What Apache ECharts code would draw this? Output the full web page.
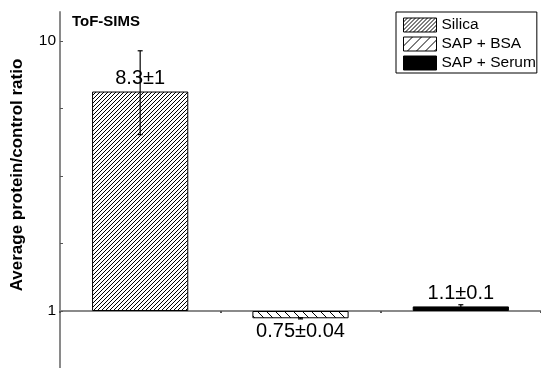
<!DOCTYPE html>
<html><head><meta charset="utf-8">
<script src="https://cdn.jsdelivr.net/npm/echarts@6/dist/echarts.min.js"></script>
<style>html,body{margin:0;padding:0;background:#fff}#c{width:541px;height:368px}</style>
</head><body><div id="c"></div>
<script>
// ---- data ----
const categories = ['Silica', 'SAP + BSA', 'SAP + Serum'];
const barValues = [6.5, 0.94, 1.04];
const errLow = [4.5, 0.935, 1.02];
const errHigh = [9.2, 0.945, 1.055];
const barLabels = ['8.3±1', '0.75±0.04', '1.1±0.1'];
const yLabelValues = [1, 10];
const yTickValues = [1, 1.778, 3.162, 5.623, 10];
const yMin = 0.6151, yMax = 12.806;

const FONT = "'Liberation Sans', Arial, sans-serif";

function hatch(size, dir, lw) {
  const c = document.createElement('canvas');
  c.width = size; c.height = size;
  const g = c.getContext('2d');
  g.fillStyle = '#fff'; g.fillRect(0, 0, size, size);
  g.strokeStyle = '#000'; g.lineWidth = lw;
  g.beginPath();
  const s = size;
  if (dir > 0) {
    for (let k = -1; k <= 1; k++) { g.moveTo(k * s, s); g.lineTo(k * s + s, 0); }
  } else {
    for (let k = -1; k <= 1; k++) { g.moveTo(k * s, 0); g.lineTo(k * s + s, s); }
  }
  g.stroke();
  return { image: c, repeat: 'repeat' };
}

const silicaFill = hatch(4, 1, 1);
const bsaBarFill = hatch(9, -1, 1);
const bsaLegendFill = hatch(9, 1, 1);
const fills = [silicaFill, bsaBarFill, '#000'];
const legendFills = [silicaFill, bsaLegendFill, '#000'];
const labelPos = ['top', 'bottom', 'top'];

const barSeries = categories.map((name, i) => ({
  name: name,
  type: 'bar',
  barWidth: '60%',
  barGap: '-100%',
  data: categories.map((c, j) => (j === i ? barValues[j] : '-')),
  itemStyle: { color: fills[i], borderColor: '#000', borderWidth: 1 },
  label: {
    show: true, position: labelPos[i], distance: 3,
    formatter: p => barLabels[p.dataIndex],
    fontSize: 20, color: '#000', fontFamily: FONT
  },
  emphasis: { disabled: true },
  animation: false
}));

const errSeries = {
  name: 'error',
  type: 'custom',
  z: 10,
  data: categories.map((c, i) => [i, errLow[i], errHigh[i]]),
  encode: { x: 0, y: [1, 2] },
  renderItem: function (params, api) {
    const x = api.value(0);
    const lo = api.coord([x, api.value(1)]);
    const hi = api.coord([x, api.value(2)]);
    const w = 2.5;
    const st = { stroke: '#000', lineWidth: 1.2 };
    return {
      type: 'group',
      children: [
        { type: 'line', shape: { x1: lo[0], y1: lo[1], x2: hi[0], y2: hi[1] }, style: st },
        { type: 'line', shape: { x1: hi[0] - w, y1: hi[1], x2: hi[0] + w, y2: hi[1] }, style: st },
        { type: 'line', shape: { x1: lo[0] - w, y1: lo[1], x2: lo[0] + w, y2: lo[1] }, style: st }
      ]
    };
  },
  animation: false
};

const chart = echarts.init(document.getElementById('c'), null, { renderer: 'canvas' });
chart.setOption({
  backgroundColor: '#fff',
  animation: false,
  textStyle: { fontFamily: FONT },
  title: {
    text: 'ToF-SIMS', left: 72, top: 14, padding: 0,
    textStyle: { fontSize: 15, fontWeight: 'bold', color: '#000', fontFamily: FONT }
  },
  legend: {
    orient: 'vertical', left: 396, top: 12,
    padding: [5, 1, 2, 7],
    borderColor: '#000', borderWidth: 1,
    itemWidth: 33, itemHeight: 14, itemGap: 3,
    icon: 'rect',
    itemStyle: { borderColor: '#000', borderWidth: 1 },
    textStyle: { fontSize: 15.5, color: '#000', fontFamily: FONT },
    data: categories.map((n, i) => ({ name: n, itemStyle: { color: legendFills[i], borderColor: '#000', borderWidth: 1 } }))
  },
  grid: { left: 60, right: -6, top: 12, bottom: 0, containLabel: false },
  xAxis: {
    type: 'category', data: categories,
    offset: -57,
    axisLine: { show: true, lineStyle: { color: '#8a8a8a', width: 2 } },
    axisTick: { show: true, length: 2, alignWithLabel: false, interval: 0, lineStyle: { color: '#555', width: 2 } },
    axisLabel: { show: false },
    splitLine: { show: false }
  },
  yAxis: {
    type: 'log', logBase: 10, min: yMin, max: yMax,
    name: 'Average protein/control ratio',
    nameLocation: 'middle', nameGap: 34,
    nameTextStyle: { fontSize: 17, fontWeight: 'bold', color: '#000', fontFamily: FONT, padding: [0, 0, 0, 30] },
    axisLine: { show: true, lineStyle: { color: '#8a8a8a', width: 2 } },
    axisTick: { show: true, inside: true, length: 3, customValues: yTickValues, lineStyle: { color: '#555' } },
    axisLabel: { show: true, customValues: yLabelValues, fontSize: 15.5, color: '#000', margin: 4, fontFamily: FONT, formatter: v => String(Math.round(v)) },
    splitLine: { show: false },
    minorTick: { show: false }
  },
  series: barSeries.concat([errSeries])
});
</script></body></html>
